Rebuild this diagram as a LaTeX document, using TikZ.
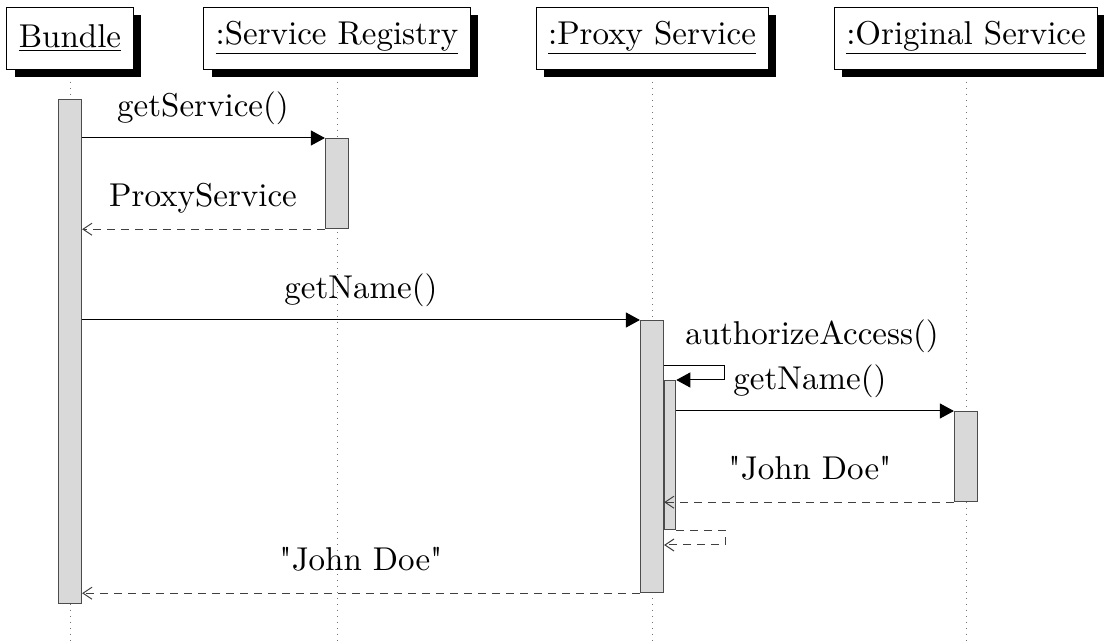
\documentclass[tikz,border=0pt]{standalone}
\usepackage{fontspec}
\setmainfont{lmroman10-regular}[Extension=.otf, Ligatures=TeXOff]
\usetikzlibrary{arrows.meta,shadows,positioning}
\tikzstyle{head} = [draw, fill=white, inner xsep=6pt, minimum height=31pt, font=\fontsize{16.5}{20}\selectfont, drop shadow={shadow xshift=4pt, shadow yshift=-4pt, fill=black, opacity=1}]
\tikzstyle{bar} = [draw=black!70, fill=black!15, line width=0.6pt, minimum width=11.5pt, inner sep=0pt, anchor=north]
\tikzstyle{lifeline} = [black!55, line width=0.5pt, dash pattern=on 0.6pt off 2.4pt]
\tikzstyle{call} = [-{Triangle[length=7pt,width=7.5pt]}, line width=0.5pt]
\tikzstyle{reply} = [-{Straight Barb[length=4.5pt,width=6pt]}, black!75, line width=0.5pt, dash pattern=on 4pt off 3pt]
\tikzstyle{msg} = [anchor=base, font=\fontsize{16.5}{20}\selectfont, inner sep=0pt]
\begin{document}
\begin{tikzpicture}[x=0.5pt, y=-0.5pt]
\useasboundingbox (0,0) rectangle (1104,641);

\node [head] (bundle) at (70,38) {\underline{Bundle}};
\node [head] (registry) at (337,38) {\underline{:Service Registry}};
\node [head] (proxy) at (652,38) {\underline{:Proxy Service}};
\node [head] (original) at (966,38) {\underline{:Original Service}};

\foreach \obj in {bundle,registry,proxy,original}
  \draw [lifeline] (\obj.south |- 0,82) -- (\obj.south |- 0,641);

\node [bar, minimum height=252pt] (bundlebar) at (70,99) {};
\node [bar, minimum height=45pt] (registrybar) at (337,138) {};
\node [bar, minimum height=136pt] (proxybar) at (652,320) {};
\node [bar, anchor=north west, minimum width=5.5pt, minimum height=74.5pt] (nestedbar) at (proxybar.east |- 0,380) {};
\node [bar, minimum height=45pt] (originalbar) at (966,411) {};

\draw [call] (bundlebar.east |- registrybar.north) -- (registrybar.north west);
\draw [reply] (registrybar.south west) -- (bundlebar.east |- registrybar.south);
\draw [call] (bundlebar.east |- proxybar.north) -- (proxybar.north west);
\draw [call] (proxybar.east |- 0,366) -- ++(60,0) |- (nestedbar.north east);
\draw [call] (nestedbar.east |- originalbar.north) -- (originalbar.north west);
\draw [reply] (originalbar.south west) -- (proxybar.east |- originalbar.south);
\draw [reply] (nestedbar.south east) -- ++(49,0) |- (proxybar.east |- 0,545);
\draw [reply] (proxybar.south west) -- (bundlebar.east |- proxybar.south);

\node [msg] (getservice) at (203,117) {getService()};
\node [msg] (proxyservice) at (203,207) {ProxyService};
\node [msg] (getname) at (361,299) {getName()};
\node [msg] (authorize) at (812,345) {authorizeAccess()};
\node [msg] (getnameorig) at (810,390) {getName()};
\node [msg] (johndoeorig) at (810,480) {"John Doe"};
\node [msg] (johndoe) at (361,571) {"John Doe"};

\end{tikzpicture}
\end{document}
